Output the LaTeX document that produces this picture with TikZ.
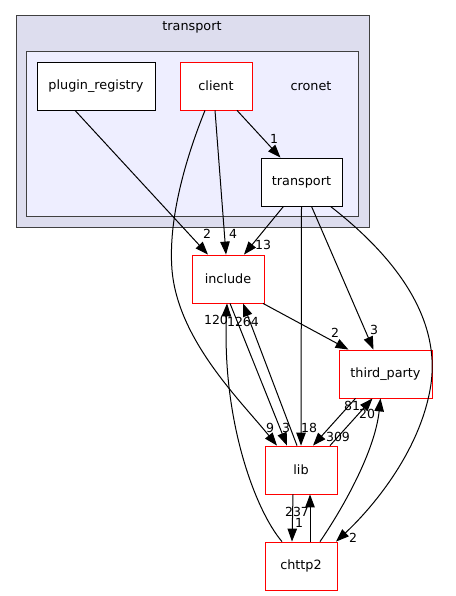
\documentclass[tikz,border=0pt]{standalone}
\usepackage{fontspec}
\setmainfont{DejaVu Sans}
\usetikzlibrary{arrows.meta}
\definecolor{outerfill}{HTML}{DDDDEE}
\definecolor{innerfill}{HTML}{EEEEFF}
\definecolor{clborder}{HTML}{404040}
\begin{document}
\begin{tikzpicture}[x=1pt,y=-1pt,
  dir/.style={draw=black,fill=white,line width=0.8pt,minimum width=72pt,minimum height=48pt,inner sep=0pt,font=\fontsize{12.8}{14}\selectfont},
  reddir/.style={dir,draw=red},
  edge/.style={draw=black,line width=1pt,-{Triangle[length=13pt,width=9.5pt]}},
  elab/.style={font=\fontsize{12.5}{14}\selectfont,inner sep=0pt}]
\useasboundingbox (0,0) rectangle (455,596);
% clusters
\draw[draw=clborder,fill=outerfill,line width=1pt] (16,16) rectangle (369,227);
\node[font=\fontsize{12.8}{14}\selectfont] (outerlab) at (192,27) {transport};
\draw[draw=clborder,fill=innerfill,line width=1pt] (26,52) rectangle (358,216);
\node[font=\fontsize{12.8}{14}\selectfont] (cronet) at (311,86) {cronet};
% nodes
\node[dir,minimum width=118pt] (plugin) at (96,86) {plugin\_registry};
\node[reddir] (client) at (216,86) {client};
\node[dir,minimum width=81pt] (transp) at (301.5,182) {transport};
\node[reddir] (include) at (228,279) {include};
\node[reddir,minimum width=93pt] (third) at (385.5,374) {third\_party};
\node[reddir] (lib) at (301,470) {lib};
\node[reddir] (chttp2) at (301,566) {chttp2};
% edges
\draw[edge] ([xshift=-21pt]plugin.south) -- ([xshift=-20pt]include.north);
\node[elab] (l1) at (207,234) {2};
\draw[edge] ([xshift=-1pt]client.south) -- ([xshift=-2pt]include.north);
\node[elab] (l2) at (233,234) {4};
\draw[edge] ([xshift=21pt]client.south) -- ([xshift=-21pt]transp.north);
\node[elab] (l3) at (274,139) {1};
\draw[edge] ([xshift=-11pt]client.south) .. controls (185,160) and (168,220) .. (172,270) .. controls (178,340) and (240,400) .. ([xshift=-24pt]lib.north);
\node[elab] (l4) at (270,428) {9};
\draw[edge] ([xshift=-18pt]transp.south) -- ([xshift=16pt]include.north);
\node[elab] (l5) at (263,245) {13};
\draw[edge] (transp.south) -- (lib.north);
\node[elab] (l6) at (309,428) {18};
\draw[edge] ([xshift=10pt]transp.south) -- ([xshift=-12pt]third.north);
\node[elab] (l7) at (374,330) {3};
\draw[edge] ([xshift=29pt]transp.south) .. controls (380,245) and (445,310) .. (430,390) .. controls (418,455) and (370,510) .. ([xshift=35pt]chttp2.north);
\node[elab] (l8) at (353,538) {2};
\draw[edge] ([xshift=35pt]include.south) -- ([xshift=-37pt]third.north);
\node[elab] (l9) at (335,333) {2};
\draw[edge] ([xshift=2pt]include.south) -- ([xshift=-14pt]lib.north);
\node[elab] (l10) at (286,428) {3};
\draw[edge] ([xshift=-4pt]lib.north) -- ([xshift=15pt]include.south);
\node[elab] (l11) at (243,322) {1264};
\draw[edge] ([xshift=-30pt]third.south) -- ([xshift=12pt]lib.north);
\node[elab] (l12) at (338,437) {309};
\draw[edge] ([xshift=29pt]lib.north) -- ([xshift=-13pt]third.south);
\node[elab] (l13) at (352,406) {81};
\draw[edge] ([xshift=19pt]chttp2.north) .. controls (345,505) and (375,450) .. ([xshift=-5pt]third.south);
\node[elab] (l14) at (367,414) {20};
\draw[edge] ([xshift=-19pt]chttp2.north) .. controls (255,510) and (222,420) .. ([xshift=-1pt]include.south);
\node[elab] (l15) at (216,320) {120};
\draw[edge] ([xshift=-8pt]lib.south) -- ([xshift=-9pt]chttp2.north);
\node[elab] (l16) at (299,523) {1};
\draw[edge] ([xshift=9pt]chttp2.north) -- ([xshift=9pt]lib.south);
\node[elab] (l17) at (297,512) {237};
\end{tikzpicture}
\end{document}
